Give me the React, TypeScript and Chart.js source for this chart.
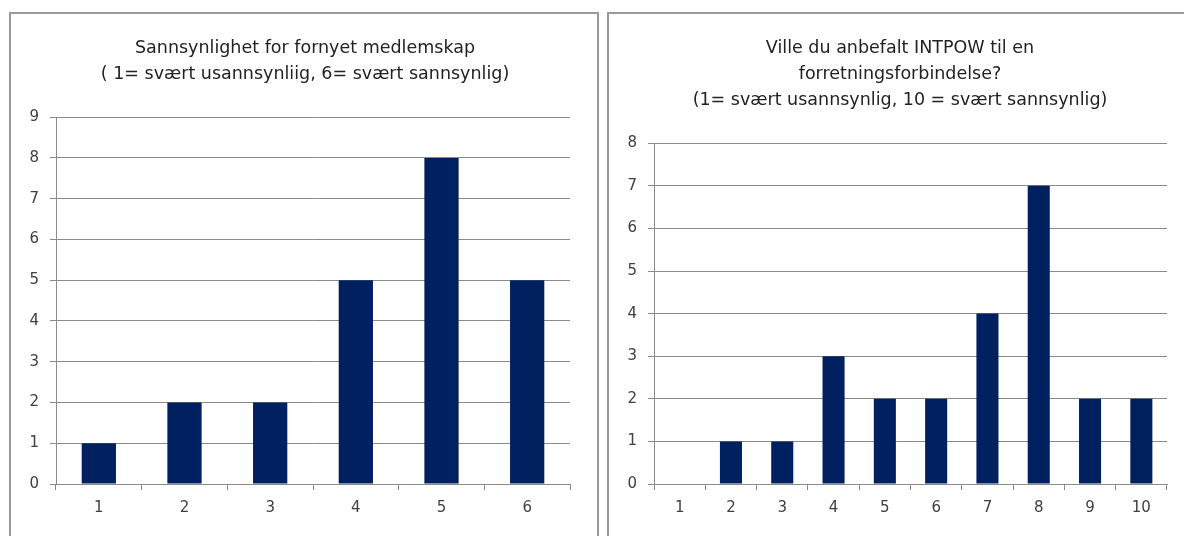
import React, { useEffect, useRef } from "react";
import { Chart, registerables } from "chart.js";

Chart.register(...registerables);

const leftCategories = ["1", "2", "3", "4", "5", "6"];
const leftValues = [1, 2, 2, 5, 8, 5];
const leftTitle = ["Sannsynlighet for fornyet medlemskap", "( 1= svært usannsynliig, 6= svært sannsynlig)"];
const leftMax = 9;

const rightCategories = ["1", "2", "3", "4", "5", "6", "7", "8", "9", "10"];
const rightValues = [0, 1, 1, 3, 2, 2, 4, 7, 2, 2];
const rightTitle = ["Ville du anbefalt INTPOW til en", "forretningsforbindelse?", "(1= svært usannsynlig, 10 = svært sannsynlig)"];
const rightMax = 8;

const FONT = "'DejaVu Sans', sans-serif";
const BAR = "#002060";
const GRID = "#8a8a8a";
const TXT = "#222222";
const TICK = "#404040";

type Cfg = {
  labels: string[];
  values: number[];
  title: string[];
  max: number;
  yWidth: number;
  padRight: number;
  titleTop: number;
  titleBottom: number;
  barPct: number;
};

function Canvas({ cfg, width }: { cfg: Cfg; width: number }) {
  const ref = useRef<HTMLCanvasElement | null>(null);
  useEffect(() => {
    if (!ref.current) return;
    const chart = new Chart(ref.current, {
      type: "bar",
      data: {
        labels: cfg.labels,
        datasets: [
          {
            data: cfg.values,
            backgroundColor: BAR,
            borderWidth: 0,
            barPercentage: cfg.barPct,
            categoryPercentage: 1,
          },
        ],
      },
      options: {
        animation: false,
        responsive: false,
        maintainAspectRatio: false,
        layout: { padding: 0 },
        plugins: {
          legend: { display: false },
          tooltip: { enabled: false },
          title: {
            display: true,
            text: cfg.title,
            color: TXT,
            font: { family: FONT, size: 17.5, weight: "normal", lineHeight: 1.49 },
            padding: { top: cfg.titleTop, bottom: cfg.titleBottom },
          },
        },
        scales: {
          x: {
            grid: {
              display: true,
              drawOnChartArea: false,
              drawTicks: true,
              tickLength: 6,
              color: GRID,
              offset: true,
            },
            border: { display: true, color: GRID, width: 1 },
            ticks: { color: TICK, font: { family: FONT, size: 15 }, padding: 9 },
            afterFit: (s: any) => {
              s.height = 52;
              s.paddingRight = cfg.padRight;
              s.paddingLeft = 0;
            },
          },
          y: {
            min: 0,
            max: cfg.max,
            grid: {
              display: true,
              drawOnChartArea: true,
              drawTicks: true,
              tickLength: 6,
              color: GRID,
            },
            border: { display: true, color: GRID, width: 1 },
            ticks: { stepSize: 1, color: TICK, font: { family: FONT, size: 15 }, padding: 11 },
            afterFit: (s: any) => {
              s.width = cfg.yWidth;
            },
          },
        },
      },
    });
    return () => chart.destroy();
  }, [cfg, width]);
  return <canvas ref={ref} width={width} height={524} style={{ display: "block" }} />;
}

function Panel({ left, width, canvasWidth, cfg }: { left: number; width: number; canvasWidth: number; cfg: Cfg }) {
  return (
    <div
      style={{
        position: "absolute",
        left,
        top: 12,
        width,
        height: 540,
        border: "2px solid #9a9a9a",
        boxSizing: "border-box",
        background: "#fff",
        overflow: "hidden",
      }}
    >
      <div style={{ position: "absolute", left: -2, top: -2, width: canvasWidth, height: 524 }}>
        <Canvas cfg={cfg} width={canvasWidth} />
      </div>
    </div>
  );
}

const leftCfg: Cfg = {
  labels: leftCategories,
  values: leftValues,
  title: leftTitle,
  max: leftMax,
  yWidth: 47,
  padRight: 31,
  titleTop: 23,
  titleBottom: 30,
  barPct: 0.4,
};

const rightCfg: Cfg = {
  labels: rightCategories,
  values: rightValues,
  title: rightTitle,
  max: rightMax,
  yWidth: 47,
  padRight: 26,
  titleTop: 23,
  titleBottom: 30,
  barPct: 0.43,
};

export default function App() {
  return (
    <div
      style={{
        position: "fixed",
        left: 0,
        top: 0,
        width: 1184,
        height: 536,
        background: "#fff",
        overflow: "hidden",
      }}
    >
      <Panel left={9} width={590} canvasWidth={592} cfg={leftCfg} />
      <Panel left={607} width={600} canvasWidth={586} cfg={rightCfg} />
    </div>
  );
}
